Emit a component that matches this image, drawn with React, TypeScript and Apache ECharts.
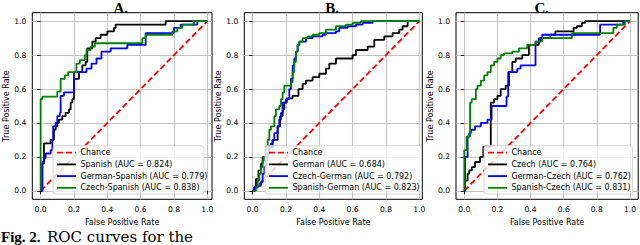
import React, { useEffect, useRef } from "react";
import * as echarts from "echarts";

// ---------------- data ----------------
const tickValues = [0, 0.2, 0.4, 0.6, 0.8, 1.0];
const panelTitles = ["A.", "B.", "C."];
const chanceName = "Chance";
const chancePoints = [[0, 0], [1, 1]];
const xAxisTitle = "False Positive Rate";
const yAxisTitle = "True Positive Rate";
const captionBold = "Fig. 2.";
const captionRest = "ROC curves for the";

const modelNamesA = ["Spanish", "German-Spanish", "Czech-Spanish"];
const aucA = [0.824, 0.779, 0.838];
const modelNamesB = ["German", "Czech-German", "Spanish-German"];
const aucB = [0.684, 0.792, 0.823];
const modelNamesC = ["Czech", "German-Czech", "Spanish-Czech"];
const aucC = [0.764, 0.762, 0.831];

// ROC points [fpr, tpr]: at fpr the curve rises to tpr
const rocSpanishA = [[0,0],[0.01,0.16],[0.02,0.28],[0.06,0.30],[0.08,0.36],[0.09,0.38],[0.1,0.40],[0.11,0.42],[0.13,0.44],[0.15,0.46],[0.17,0.48],[0.18,0.52],[0.19,0.54],[0.2,0.66],[0.23,0.70],[0.25,0.74],[0.27,0.76],[0.28,0.84],[0.31,0.88],[0.33,0.90],[0.36,0.92],[0.4,0.94],[0.44,0.96],[0.45,0.98],[0.75,1.0],[1,1]];
const rocGermanSpanishA = [[0,0],[0.01,0.17],[0.02,0.19],[0.03,0.22],[0.06,0.24],[0.07,0.30],[0.075,0.38],[0.09,0.40],[0.1,0.44],[0.115,0.46],[0.12,0.56],[0.14,0.58],[0.2,0.70],[0.275,0.72],[0.305,0.75],[0.335,0.78],[0.365,0.82],[0.42,0.84],[0.52,0.86],[0.63,0.93],[0.8,0.96],[0.84,0.98],[0.94,1.0],[1,1]];
const rocCzechSpanishA = [[0,0],[0,0.54],[0.01,0.555],[0.1,0.585],[0.12,0.66],[0.145,0.68],[0.165,0.70],[0.215,0.75],[0.235,0.77],[0.265,0.80],[0.275,0.83],[0.3,0.85],[0.325,0.87],[0.61,0.90],[0.63,0.92],[0.79,0.94],[0.82,0.96],[0.85,0.98],[0.92,1.0],[1,1]];

const rocGermanB = [[0,0],[0.01,0.02],[0.02,0.07],[0.035,0.12],[0.05,0.16],[0.06,0.20],[0.09,0.22],[0.1,0.26],[0.12,0.30],[0.15,0.38],[0.165,0.44],[0.18,0.48],[0.19,0.52],[0.205,0.545],[0.24,0.56],[0.275,0.60],[0.3,0.63],[0.32,0.65],[0.36,0.67],[0.4,0.69],[0.44,0.72],[0.46,0.75],[0.5,0.78],[0.6,0.80],[0.62,0.83],[0.69,0.85],[0.73,0.89],[0.79,0.91],[0.84,0.93],[0.88,0.95],[0.9,0.97],[0.93,1.0],[1,1]];
const rocCzechGermanB = [[0,0],[0.01,0.02],[0.03,0.03],[0.05,0.05],[0.06,0.10],[0.07,0.14],[0.08,0.18],[0.09,0.22],[0.1,0.26],[0.11,0.28],[0.12,0.30],[0.13,0.34],[0.15,0.38],[0.16,0.42],[0.17,0.46],[0.18,0.52],[0.2,0.54],[0.22,0.60],[0.23,0.66],[0.24,0.74],[0.25,0.78],[0.26,0.82],[0.27,0.86],[0.28,0.88],[0.32,0.90],[0.36,0.91],[0.42,0.92],[0.44,0.93],[0.5,0.94],[0.52,0.96],[0.57,0.97],[0.62,0.98],[0.66,0.99],[0.72,1.0],[1,1]];
const rocSpanishGermanB = [[0,0],[0.02,0.02],[0.03,0.06],[0.04,0.10],[0.05,0.14],[0.06,0.18],[0.07,0.20],[0.08,0.26],[0.09,0.30],[0.1,0.36],[0.11,0.38],[0.13,0.44],[0.14,0.48],[0.16,0.50],[0.17,0.54],[0.18,0.58],[0.19,0.62],[0.23,0.64],[0.24,0.70],[0.25,0.76],[0.26,0.82],[0.27,0.86],[0.28,0.88],[0.3,0.90],[0.33,0.91],[0.36,0.92],[0.4,0.93],[0.44,0.95],[0.5,0.97],[0.56,0.98],[0.6,0.99],[0.65,1.0],[1,1]];

const rocCzechC = [[0,0],[0.005,0.06],[0.02,0.10],[0.03,0.12],[0.045,0.14],[0.065,0.17],[0.095,0.20],[0.115,0.26],[0.16,0.52],[0.18,0.54],[0.2,0.56],[0.22,0.60],[0.25,0.62],[0.27,0.70],[0.29,0.76],[0.31,0.78],[0.35,0.80],[0.39,0.86],[0.45,0.88],[0.46,0.90],[0.52,0.92],[0.55,0.94],[0.66,0.96],[0.68,0.97],[0.71,0.99],[0.73,1.0],[1,1]];
const rocGermanCzechC = [[0,0],[0.005,0.20],[0.02,0.32],[0.03,0.34],[0.04,0.36],[0.065,0.38],[0.1,0.40],[0.14,0.42],[0.165,0.50],[0.255,0.555],[0.265,0.70],[0.32,0.72],[0.34,0.74],[0.43,0.88],[0.45,0.90],[0.47,0.92],[0.82,0.98],[0.96,1.0],[1,1]];
const rocSpanishCzechC = [[0,0],[0,0.24],[0.014,0.32],[0.035,0.52],[0.045,0.54],[0.07,0.60],[0.08,0.62],[0.1,0.65],[0.12,0.68],[0.14,0.70],[0.16,0.74],[0.18,0.76],[0.2,0.78],[0.22,0.80],[0.24,0.81],[0.29,0.82],[0.33,0.84],[0.38,0.86],[0.43,0.88],[0.47,0.90],[0.65,0.93],[0.9,0.96],[0.92,0.98],[0.97,1.0],[1,1]];

// ---------------- styles / layout ----------------
const curveColors = ["#000000", "#0000ff", "#008000"];
const chanceColor = "#ff0000";
const SANS = "DejaVu Sans";
const SERIF = "Liberation Serif";
const PLOT_TOP = 12.7;
const PLOT_H = 186.6;
const LEGEND_TOP = 145.7;
const LEGEND_H = 48.3;
const LEGEND_ROW0 = 152.7;
const LEGEND_STEP = 11.7;

const panelLayout = [
  { left: 32.3, width: 179.7, xMax: 1.028, titleX: 120.7, legendX: 53, legendW: 151 },
  { left: 244.3, width: 178, xMax: 1.018, titleX: 332, legendX: 265, legendW: 156.5 },
  { left: 456, width: 182.2, xMax: 1.05, titleX: 541.7, legendX: 484, legendW: 148.5 },
];

const panels = [
  { curves: [rocSpanishA, rocGermanSpanishA, rocCzechSpanishA], names: modelNamesA, auc: aucA },
  { curves: [rocGermanB, rocCzechGermanB, rocSpanishGermanB], names: modelNamesB, auc: aucB },
  { curves: [rocCzechC, rocGermanCzechC, rocSpanishCzechC], names: modelNamesC, auc: aucC },
];

function buildOption() {
  const grid: any[] = [];
  const xAxis: any[] = [];
  const yAxis: any[] = [];
  const series: any[] = [];
  const graphic: any[] = [];

  panels.forEach((p, i) => {
    const L = panelLayout[i];
    grid.push({
      left: L.left, top: PLOT_TOP, width: L.width, height: PLOT_H,
      show: true, borderColor: "#000", borderWidth: 1, backgroundColor: "transparent",
      containLabel: false, outerBoundsMode: "none",
    });
    const common = {
      type: "value", gridIndex: i,
      axisLine: { show: false },
      axisTick: { show: true, length: 3.5, customValues: tickValues, lineStyle: { color: "#000", width: 0.8 } },
      axisLabel: {
        customValues: tickValues, formatter: (v: number) => v.toFixed(1),
        fontSize: 7.6, fontFamily: SANS, color: "#000", margin: 6,
      },
      splitLine: { show: true, lineStyle: { color: "#c4c4c4", width: 1.1 } },
      nameLocation: "middle",
      nameTextStyle: { fontSize: 8, fontFamily: SANS, color: "#000" },
    };
    xAxis.push({ ...common, min: -0.05, max: L.xMax, name: xAxisTitle, nameGap: 15 });
    yAxis.push({ ...common, min: -0.05, max: 1.05, name: yAxisTitle, nameGap: 22 });

    series.push({
      type: "line", name: chanceName, xAxisIndex: i, yAxisIndex: i, data: chancePoints,
      symbol: "none", silent: true, z: 2,
      lineStyle: { color: chanceColor, width: 1.8, type: [6, 3] },
    });
    p.curves.forEach((c, j) => {
      series.push({
        type: "line", step: "end", name: p.names[j], xAxisIndex: i, yAxisIndex: i, data: c,
        symbol: "none", silent: true, z: 3 + j,
        lineStyle: { color: curveColors[j], width: 1.8 },
      });
    });

    // title
    graphic.push({
      type: "text", x: L.titleX, y: 7.6, z: 20,
      style: { text: panelTitles[i], fontFamily: SERIF, fontWeight: "bold", fontSize: 15, fill: "#000", align: "center", verticalAlign: "middle" },
    });

    // legend
    graphic.push({
      type: "rect", z: 20,
      shape: { x: L.legendX, y: LEGEND_TOP, width: L.legendW, height: LEGEND_H, r: 2.5 },
      style: { fill: "rgba(255,255,255,0.8)", stroke: "#cccccc", lineWidth: 0.8 },
    });
    const labels = [chanceName, ...p.names.map((n, j) => `${n} (AUC = ${p.auc[j].toFixed(3)})`)];
    const colors = [chanceColor, ...curveColors];
    labels.forEach((lab, k) => {
      const yy = LEGEND_ROW0 + LEGEND_STEP * k;
      graphic.push({
        type: "line", z: 21,
        shape: { x1: L.legendX + 4, y1: yy, x2: L.legendX + 23, y2: yy },
        style: { stroke: colors[k], lineWidth: 1.8, lineDash: k === 0 ? [6, 3] : null },
      });
      graphic.push({
        type: "text", x: L.legendX + 27.5, y: yy, z: 21,
        style: { text: lab, fontFamily: SANS, fontSize: 8, fill: "#000", align: "left", verticalAlign: "middle" },
      });
    });
  });

  graphic.push({
    type: "text", x: 1, y: 236.5, z: 20,
    style: { text: captionBold, fontFamily: SERIF, fontWeight: "bold", fontSize: 15, fill: "#000", align: "left", verticalAlign: "middle" },
  });
  graphic.push({
    type: "text", x: 47, y: 236.5, z: 20,
    style: { text: captionRest, fontFamily: "DejaVu Serif", fontSize: 15, fill: "#000", align: "left", verticalAlign: "middle" },
  });

  return {
    animation: false,
    backgroundColor: "#ffffff",
    grid, xAxis, yAxis, series, graphic,
  };
}

export default function App() {
  const ref = useRef<HTMLDivElement | null>(null);
  useEffect(() => {
    document.body.style.margin = "0";
    if (!ref.current) return;
    const chart = echarts.init(ref.current, null, { renderer: "svg" });
    chart.setOption(buildOption() as any);
    return () => chart.dispose();
  }, []);
  return <div ref={ref} style={{ width: 640, height: 245 }} />;
}
